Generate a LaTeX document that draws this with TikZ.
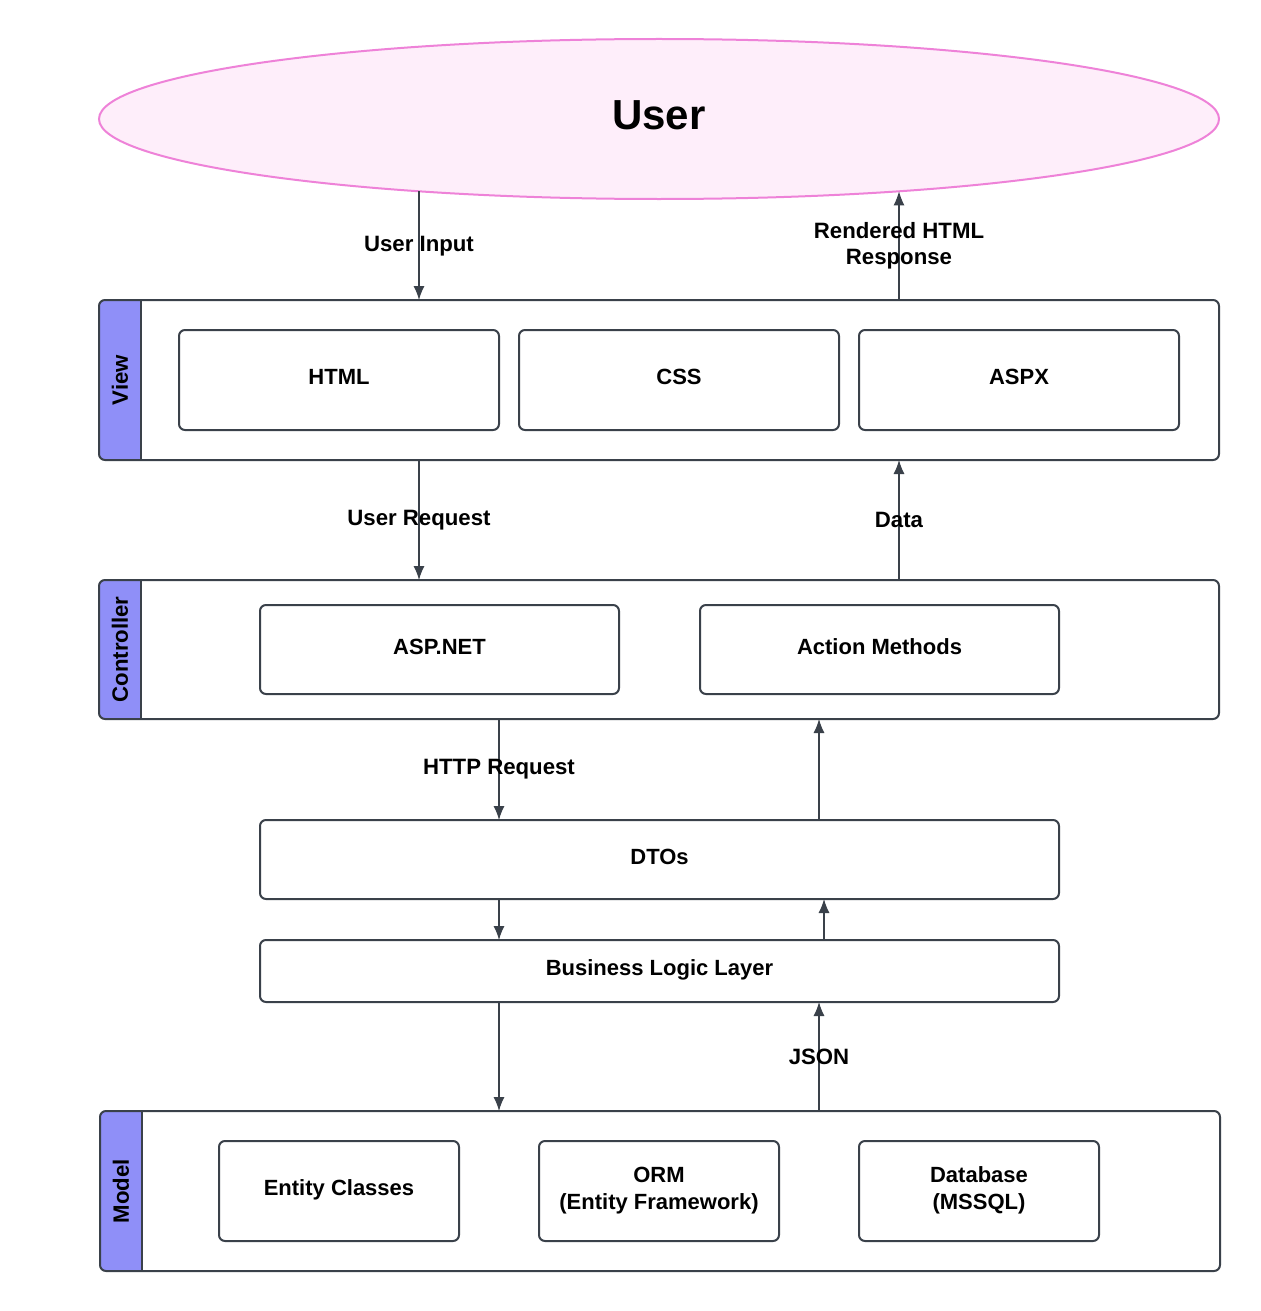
\documentclass[tikz,border=0pt]{standalone}
\usepackage{fontspec}
\setmainfont{Liberation Sans}
\usetikzlibrary{shapes.geometric,arrows.meta,backgrounds}
\definecolor{edge}{HTML}{3A414A}
\definecolor{lanefill}{HTML}{8F8FF8}
\definecolor{userfill}{HTML}{FEEEFA}
\definecolor{userline}{HTML}{EE82D8}
\tikzset{
    layer/.style={draw=edge, line width=1pt, rounded corners=3pt, minimum width=560pt, inner sep=0pt, outer sep=0pt},
    part/.style={draw=edge, line width=1pt, rounded corners=3pt, fill=white, inner sep=0pt, outer sep=0pt, align=center, font=\bfseries\fontsize{11}{13.5}\selectfont, text depth=3pt},
    flow/.style={-{Latex[length=7pt,width=5.5pt]}, draw=edge, line width=0.6pt},
    tag/.style={font=\bfseries\fontsize{11.1}{13}\selectfont, align=center, inner sep=0pt}
}
\newcommand{\lanetag}[2]{%
    \begin{pgfonlayer}{background}
    \fill[lanefill, rounded corners=3pt] (#1.north west) rectangle ([xshift=21pt]#1.south west);
    \fill[lanefill] ([xshift=10pt]#1.north west) rectangle ([xshift=21pt]#1.south west);
    \end{pgfonlayer}
    \draw[edge, line width=1pt] ([xshift=21pt]#1.north west) -- ([xshift=21pt]#1.south west);
    \node[rotate=90, font=\bfseries\fontsize{11.1}{13}\selectfont] at ([xshift=10.5pt]#1.west) {#2};
}
\begin{document}
\begin{tikzpicture}[x=0.5pt, y=-0.5pt]
    \useasboundingbox (0,0) rectangle (1260,1311);

\node[ellipse, draw=userline, fill=userfill, line width=1pt, minimum width=560pt, minimum height=80pt, inner sep=0pt, text depth=4pt, font=\bfseries\fontsize{21}{25}\selectfont] (user) at (659,119) {User};

\node[layer, minimum height=80pt] (view) at (659,380) {};
\node[layer, minimum height=69.5pt] (controller) at (659,649.5) {};
\node[layer, minimum height=80pt] (model) at (660,1191) {};
\lanetag{view}{View}
\lanetag{controller}{Controller}
\lanetag{model}{Model}

\foreach \name/\x/\txt in {html/339/HTML, css/679/CSS, aspx/1019/ASPX}
{
    \node[part, minimum width=160pt, minimum height=50pt] (\name) at (\x,380) {\txt};
}
\node[part, minimum width=179.5pt, minimum height=44.5pt] (aspnet) at (439.5,649.5) {ASP.NET};
\node[part, minimum width=179.5pt, minimum height=44.5pt] (action) at (879.5,649.5) {Action Methods};
\node[part, minimum width=399.5pt, minimum height=39.5pt] (dto) at (659.5,859.5) {DTOs};
\node[part, minimum width=399.5pt, minimum height=31pt] (bll) at (659.5,971) {Business Logic Layer};
\foreach \name/\x/\txt in {entity/339/Entity Classes, orm/659/ORM\\(Entity Framework), db/979/Database\\(MSSQL)}
{
    \node[part, minimum width=120pt, minimum height=50pt] (\name) at (\x,1191) {\txt};
}

\path (419,0) coordinate (x1) (899,0) coordinate (x2) (499,0) coordinate (x3) (819,0) coordinate (x4) (824,0) coordinate (x5);

\draw[flow] (x1 |- user.196.7) -- node[tag]{User Input} (x1 |- view.north);
\draw[flow] (x2 |- view.north) -- node[tag]{Rendered HTML\\Response} (x2 |- user.-16.7);
\draw[flow] (x1 |- view.south) -- node[tag]{User Request} (x1 |- controller.north);
\draw[flow] (x2 |- controller.north) -- node[tag]{Data} (x2 |- view.south);
\draw[flow] (x3 |- controller.south) -- node[tag]{HTTP Request} (x3 |- dto.north);
\draw[flow] (x4 |- dto.north) -- (x4 |- controller.south);
\draw[flow] (x3 |- dto.south) -- (x3 |- bll.north);
\draw[flow] (x5 |- bll.north) -- (x5 |- dto.south);
\draw[flow] (x3 |- bll.south) -- (x3 |- model.north);
\draw[flow] (x4 |- model.north) -- node[tag]{JSON} (x4 |- bll.south);

\end{tikzpicture}
\end{document}
